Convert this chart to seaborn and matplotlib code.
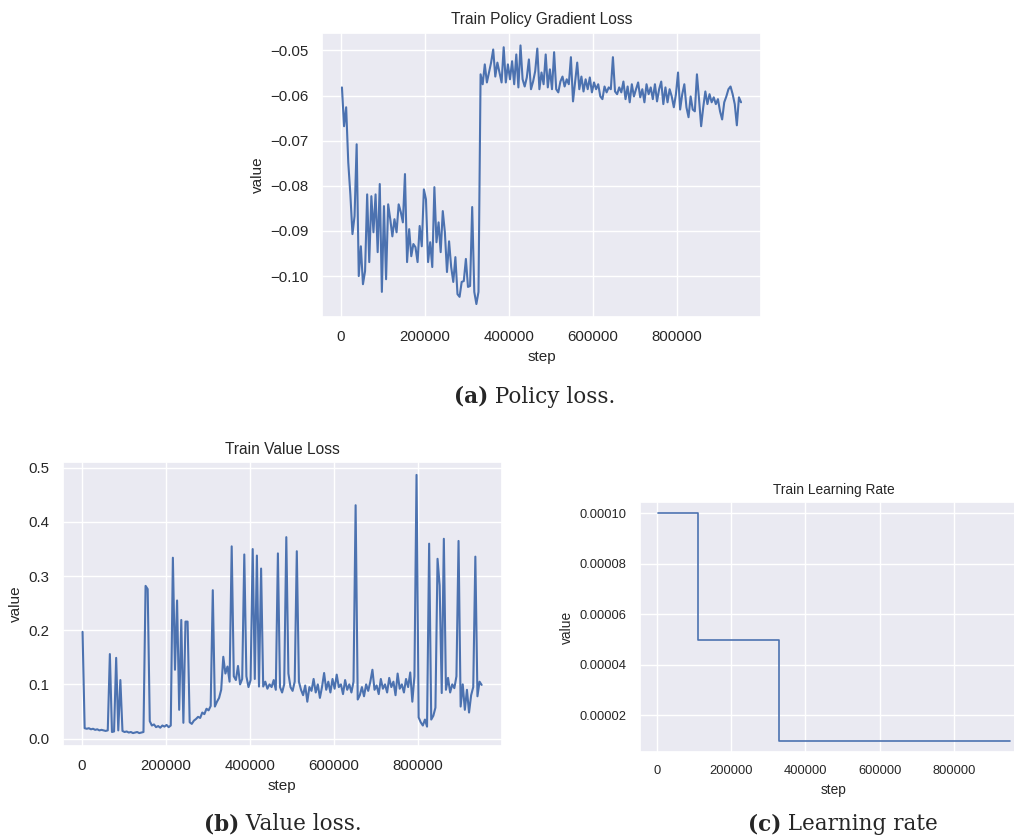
import numpy as np
import pandas as pd
import matplotlib
matplotlib.use("Agg")
import matplotlib.pyplot as plt
from matplotlib.ticker import FormatStrFormatter, StrMethodFormatter
import seaborn as sns

# ---- logged training curves (one entry every 5000 steps, starting at step 2000) ----
steps = np.arange(2000, 955000, 5000)

policy_loss = [
    -0.0582, -0.0668, -0.0626, -0.0748, -0.0819, -0.0907, -0.0867, -0.0708, -0.1000, -0.0934,
    -0.1018, -0.0989, -0.0819, -0.0969, -0.0823, -0.0903, -0.0819, -0.0947, -0.0796, -0.1035,
    -0.0845, -0.1007, -0.0841, -0.0874, -0.0912, -0.0874, -0.0903, -0.0841, -0.0858, -0.0881,
    -0.0774, -0.0969, -0.0896, -0.0956, -0.0929, -0.0936, -0.0969, -0.0889, -0.0934, -0.0808,
    -0.0830, -0.0969, -0.0925, -0.0980, -0.0803, -0.0925, -0.0881, -0.0947, -0.0856, -0.0903,
    -0.0991, -0.0923, -0.0980, -0.1013, -0.0958, -0.1040, -0.1046, -0.1013, -0.1011, -0.0962,
    -0.1024, -0.1022, -0.0847, -0.1035, -0.1062, -0.1035, -0.0553, -0.0575, -0.0531, -0.0571,
    -0.0549, -0.0527, -0.0498, -0.0558, -0.0527, -0.0549, -0.0571, -0.0493, -0.0571, -0.0531,
    -0.0564, -0.0524, -0.0575, -0.0509, -0.0582, -0.0489, -0.0564, -0.0580, -0.0560, -0.0520,
    -0.0586, -0.0569, -0.0546, -0.0496, -0.0586, -0.0549, -0.0575, -0.0509, -0.0582, -0.0542,
    -0.0586, -0.0504, -0.0586, -0.0593, -0.0569, -0.0558, -0.0580, -0.0564, -0.0575, -0.0515,
    -0.0613, -0.0571, -0.0527, -0.0586, -0.0558, -0.0591, -0.0564, -0.0586, -0.0560, -0.0593,
    -0.0571, -0.0586, -0.0575, -0.0602, -0.0608, -0.0580, -0.0593, -0.0582, -0.0586, -0.0515,
    -0.0591, -0.0597, -0.0582, -0.0593, -0.0569, -0.0608, -0.0580, -0.0615, -0.0575, -0.0602,
    -0.0586, -0.0571, -0.0604, -0.0586, -0.0615, -0.0575, -0.0597, -0.0582, -0.0608, -0.0575,
    -0.0613, -0.0586, -0.0569, -0.0619, -0.0582, -0.0615, -0.0586, -0.0602, -0.0626, -0.0597,
    -0.0549, -0.0631, -0.0597, -0.0575, -0.0626, -0.0648, -0.0602, -0.0631, -0.0635, -0.0553,
    -0.0608, -0.0668, -0.0626, -0.0591, -0.0619, -0.0597, -0.0615, -0.0604, -0.0619, -0.0608,
    -0.0635, -0.0653, -0.0615, -0.0602, -0.0586, -0.0580, -0.0597, -0.0619, -0.0666, -0.0604,
    -0.0615,
]

value_loss = [
    0.197, 0.019, 0.018, 0.019, 0.017, 0.018, 0.016, 0.017, 0.015, 0.016,
    0.015, 0.014, 0.015, 0.156, 0.012, 0.013, 0.149, 0.015, 0.108, 0.014,
    0.012, 0.013, 0.011, 0.012, 0.010, 0.011, 0.012, 0.010, 0.011, 0.012,
    0.282, 0.276, 0.032, 0.024, 0.026, 0.021, 0.023, 0.020, 0.024, 0.022,
    0.025, 0.021, 0.024, 0.334, 0.127, 0.255, 0.053, 0.219, 0.029, 0.216,
    0.216, 0.030, 0.027, 0.033, 0.036, 0.040, 0.038, 0.048, 0.045, 0.055,
    0.052, 0.060, 0.274, 0.059, 0.068, 0.075, 0.090, 0.151, 0.120, 0.133,
    0.105, 0.355, 0.115, 0.108, 0.134, 0.100, 0.110, 0.340, 0.115, 0.095,
    0.108, 0.350, 0.110, 0.338, 0.096, 0.314, 0.096, 0.105, 0.092, 0.100,
    0.095, 0.108, 0.090, 0.342, 0.095, 0.085, 0.100, 0.372, 0.120, 0.095,
    0.088, 0.105, 0.346, 0.105, 0.090, 0.080, 0.098, 0.068, 0.095, 0.088,
    0.110, 0.085, 0.100, 0.075, 0.095, 0.121, 0.090, 0.105, 0.085, 0.110,
    0.092, 0.118, 0.095, 0.100, 0.082, 0.108, 0.090, 0.100, 0.085, 0.105,
    0.431, 0.072, 0.080, 0.095, 0.078, 0.100, 0.088, 0.105, 0.127, 0.090,
    0.098, 0.082, 0.110, 0.092, 0.100, 0.085, 0.112, 0.095, 0.105, 0.080,
    0.120, 0.092, 0.100, 0.085, 0.110, 0.095, 0.122, 0.068, 0.115, 0.487,
    0.039, 0.030, 0.024, 0.035, 0.022, 0.360, 0.035, 0.042, 0.057, 0.332,
    0.283, 0.084, 0.369, 0.090, 0.112, 0.085, 0.100, 0.093, 0.115, 0.365,
    0.059, 0.100, 0.053, 0.090, 0.048, 0.080, 0.095, 0.336, 0.078, 0.105,
    0.099,
]

# learning-rate schedule: value holds from each change point onward
lr_steps = [2000, 110000, 330000, 952000]
lr_values = [1e-4, 5e-5, 1e-5, 1e-5]

titles = ["Train Policy Gradient Loss", "Train Value Loss", "Train Learning Rate"]
captions = [("(a)", " Policy loss."), ("(b)", " Value loss."), ("(c)", " Learning rate")]

assert len(policy_loss) == len(steps) and len(value_loss) == len(steps)

sns.set_theme(style="darkgrid")
plt.rcParams["font.family"] = ["Liberation Sans", "DejaVu Sans"]

color = sns.color_palette("deep")[0]

W, H = 1014, 836
fig = plt.figure(figsize=(W / 100, H / 100), dpi=100)


def add_axes(left, top, width, height):
    return fig.add_axes([left / W, 1 - (top + height) / H, width / W, height / H])


ax_a = add_axes(322, 32.5, 439, 284.5)
ax_b = add_axes(62.6, 462, 439, 284)
ax_c = add_axes(640, 502, 388, 250)

df_a = pd.DataFrame({"step": steps, "value": policy_loss})
df_b = pd.DataFrame({"step": steps, "value": value_loss})
df_c = pd.DataFrame({"step": lr_steps, "value": lr_values})

sns.lineplot(data=df_a, x="step", y="value", ax=ax_a, color=color,
             linewidth=1.5, estimator=None)
sns.lineplot(data=df_b, x="step", y="value", ax=ax_b, color=color,
             linewidth=1.5, estimator=None)
sns.lineplot(data=df_c, x="step", y="value", ax=ax_c, color=color,
             linewidth=1.2, estimator=None, drawstyle="steps-post")

for ax, title, big in [(ax_a, titles[0], True), (ax_b, titles[1], True), (ax_c, titles[2], False)]:
    tsize, lsize, ksize = (11.2, 11, 10.8) if big else (9.9, 9.9, 9.3)
    ax.set_title(title, fontsize=tsize)
    ax.set_xlabel("step", fontsize=lsize)
    ax.set_ylabel("value", fontsize=lsize)
    ax.tick_params(labelsize=ksize)
    ax.xaxis.set_major_formatter(StrMethodFormatter("{x:.0f}"))

ax_b.yaxis.set_major_formatter(FormatStrFormatter("%.1f"))
ax_c.yaxis.set_major_formatter(FormatStrFormatter("%.5f"))
ax_c.set_yticks([2e-5, 4e-5, 6e-5, 8e-5, 1e-4])


# sub-figure captions: bold tag followed by regular text, centred as one line
renderer = fig.canvas.get_renderer()


def caption(cx, baseline, tag, rest, size=15.5):
    y = 1 - baseline / H
    t1 = fig.text(0, y, tag, family="DejaVu Serif", fontweight="bold",
                  fontsize=size, va="baseline", ha="left")
    t2 = fig.text(0, y, rest, family="DejaVu Serif", fontsize=size,
                  va="baseline", ha="left")
    w1 = t1.get_window_extent(renderer).width
    w2 = t2.get_window_extent(renderer).width
    x0 = cx - (w1 + w2) / 2
    t1.set_x(x0 / W)
    t2.set_x((x0 + w1) / W)


caption(535, 403, *captions[0])
caption(283, 830, *captions[1])
caption(843, 830, *captions[2])

fig.savefig("out.png", dpi=100)
